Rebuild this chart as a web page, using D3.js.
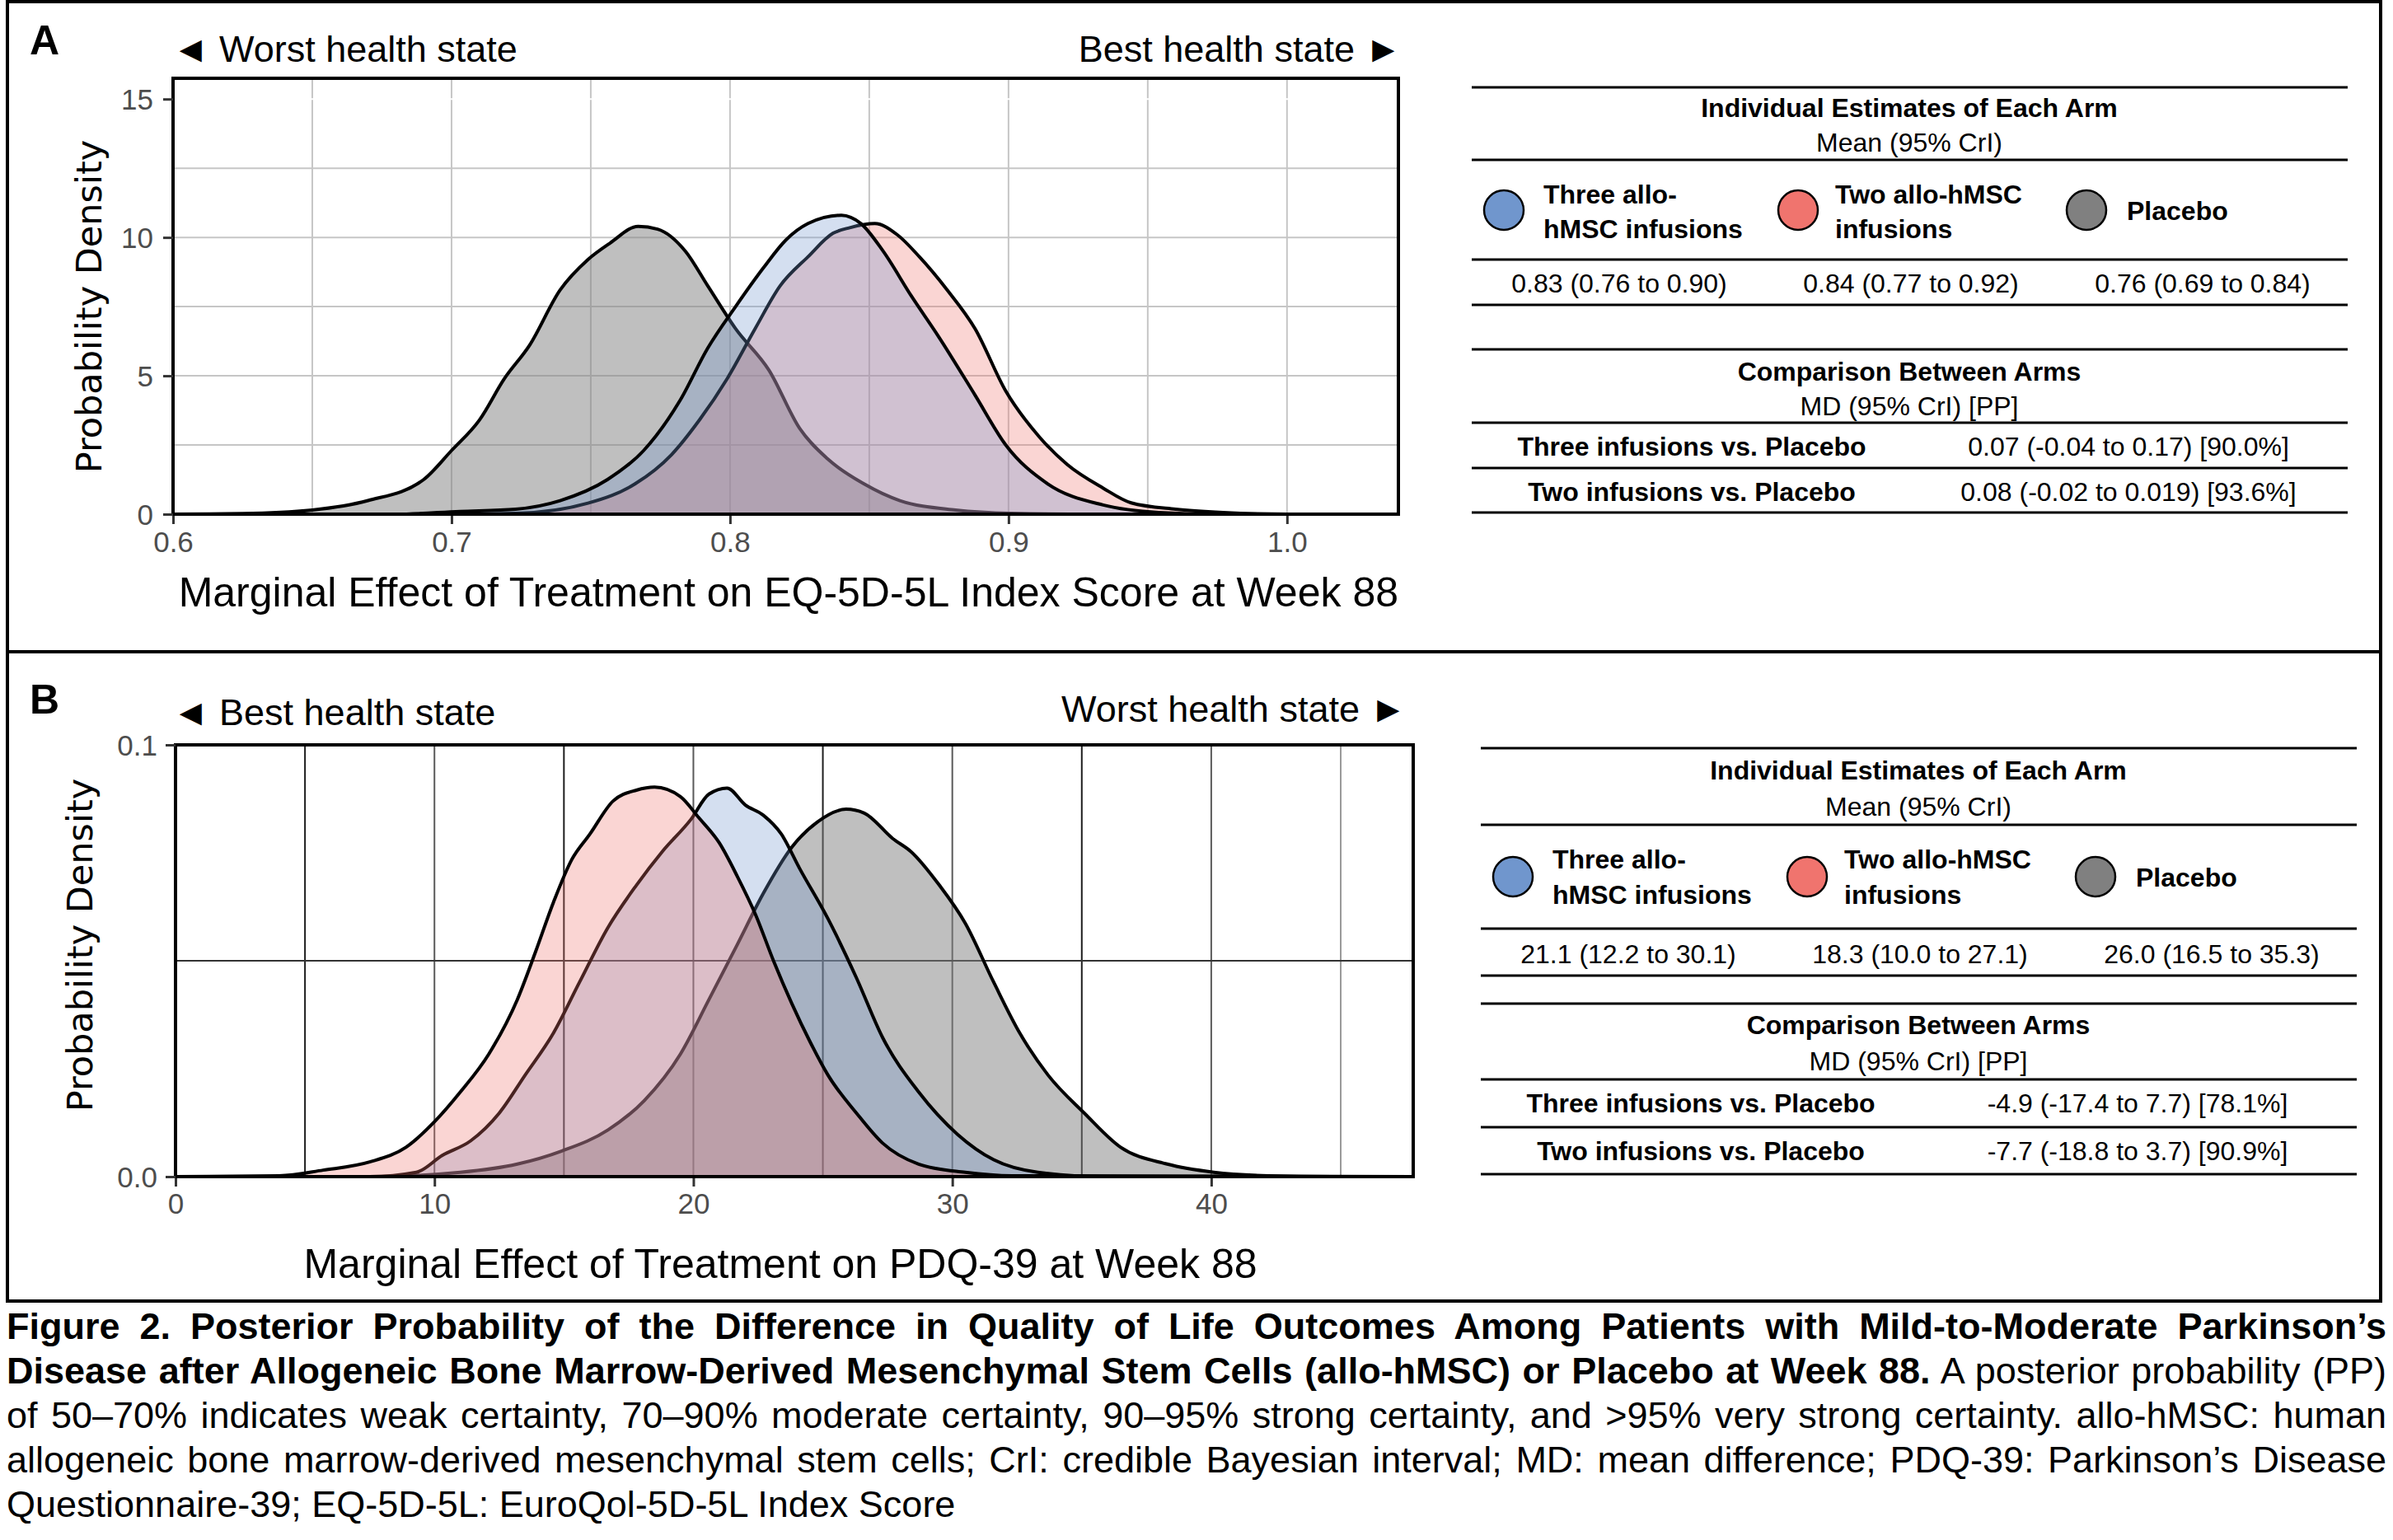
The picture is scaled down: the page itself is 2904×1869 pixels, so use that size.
<!DOCTYPE html>
<html>
<head>
<meta charset="utf-8">
<script src="https://cdn.jsdelivr.net/npm/d3@7"></script>
<style>
  body { margin: 0; background: #fff; }
  svg { position: absolute; left: 0; top: 0; }
  .caption { position: absolute; left: 8px; top: 1583px; width: 2888px;
    font-family: "Liberation Sans", Arial, sans-serif; font-size: 45px; line-height: 54px; color: #000; }
  .caption div { text-align: justify; text-align-last: justify; }
  .caption div.last { text-align-last: left; }
</style>
</head>
<body>
<script>
// arms, in legend order
const arms = ["Three allo-hMSC infusions", "Two allo-hMSC infusions", "Placebo"];
const armLegend = [["Three allo-", "hMSC infusions"], ["Two allo-hMSC", "infusions"], ["Placebo"]];
const armColors = ["#7096cd", "#f0746e", "#808080"];

// panel A: EQ-5D-5L index score, density  [x, density]
const eqThree = [[0.60, 0], [0.68, 0], [0.703, 0.1], [0.723, 0.18], [0.739, 0.49], [0.756, 1.25], [0.769, 2.3],
  [0.782, 4.1], [0.792, 6.0], [0.802, 7.5], [0.812, 8.9], [0.820, 9.9], [0.828, 10.5], [0.840, 10.8],
  [0.847, 10.5], [0.855, 9.5], [0.865, 7.9], [0.875, 6.4], [0.888, 4.3], [0.899, 2.5], [0.914, 1.1],
  [0.934, 0.33], [0.954, 0.06], [0.974, 0], [1.04, 0]];
const eqTwo = [[0.60, 0], [0.70, 0], [0.723, 0.03], [0.749, 0.4], [0.766, 1.1], [0.779, 2.15], [0.789, 3.4],
  [0.799, 4.9], [0.809, 6.7], [0.818, 8.25], [0.828, 9.3], [0.837, 10.15], [0.843, 10.35], [0.852, 10.5],
  [0.860, 10.1], [0.868, 9.3], [0.878, 8.1], [0.888, 6.7], [0.899, 4.45], [0.911, 2.8], [0.921, 1.8],
  [0.934, 0.94], [0.944, 0.41], [0.960, 0.18], [0.977, 0.06], [1.0, 0], [1.04, 0]];
const eqPlacebo = [[0.60, 0], [0.625, 0.02], [0.650, 0.15], [0.670, 0.49], [0.690, 1.25], [0.700, 2.3],
  [0.710, 3.4], [0.719, 4.9], [0.728, 6.1], [0.739, 8.1], [0.749, 9.2], [0.757, 9.8], [0.767, 10.4],
  [0.774, 10.3], [0.784, 9.5], [0.792, 8.25], [0.802, 6.7], [0.814, 5.2], [0.825, 3.1], [0.835, 2.0],
  [0.848, 1.1], [0.861, 0.49], [0.881, 0.15], [0.901, 0.03], [0.93, 0], [1.04, 0]];

// panel B: PDQ-39, density  [x, density]
const pdqThree = [[0, 0], [7.5, 0], [9.3, 0.001], [10.3, 0.0049], [11.4, 0.0083], [12.5, 0.0147],
  [13.5, 0.0235], [14.6, 0.0333], [15.6, 0.045], [16.7, 0.0577], [17.8, 0.0675], [18.8, 0.0753],
  [19.9, 0.0827], [20.6, 0.0886], [21.3, 0.090], [22.0, 0.0861], [22.7, 0.0837], [23.4, 0.0793],
  [24.1, 0.0714], [25.2, 0.0597], [26.3, 0.046], [27.3, 0.0323], [28.7, 0.0196], [30.2, 0.0098],
  [31.6, 0.0039], [33.3, 0.001], [35.8, 0], [47.8, 0]];
const pdqTwo = [[0, 0], [4.0, 0.0002], [5.7, 0.0015], [7.5, 0.0034], [8.9, 0.0068], [10.0, 0.0127],
  [11.0, 0.0196], [12.1, 0.0284], [13.2, 0.041], [13.9, 0.052], [14.6, 0.0636], [15.3, 0.0734],
  [16.0, 0.0793], [16.9, 0.087], [17.8, 0.0895], [18.5, 0.0902], [19.5, 0.088], [20.2, 0.0832],
  [21.0, 0.0773], [21.7, 0.0695], [22.4, 0.0607], [23.1, 0.0499], [23.8, 0.0401], [24.5, 0.0313],
  [25.2, 0.0235], [26.3, 0.0147], [27.3, 0.0078], [28.7, 0.0029], [30.5, 0.001], [32.3, 0.0002], [47.8, 0]];
const pdqPlacebo = [[0, 0], [7.5, 0], [11.0, 0.001], [13.2, 0.0029], [14.9, 0.0059], [16.7, 0.0108],
  [18.1, 0.0176], [19.5, 0.0284], [20.6, 0.041], [21.7, 0.0538], [22.7, 0.0656], [23.8, 0.0763],
  [24.8, 0.0822], [25.9, 0.0851], [26.6, 0.0842], [27.7, 0.0783], [28.4, 0.0753], [29.5, 0.0675],
  [30.5, 0.0587], [31.6, 0.045], [32.6, 0.0333], [33.7, 0.0235], [35.1, 0.0147], [36.5, 0.0068],
  [38.3, 0.0029], [40.1, 0.001], [42.2, 0.0002], [44.7, 0], [47.8, 0]];

// tick values
const eqTicksX = [0.6, 0.7, 0.8, 0.9, 1.0];
const eqTicksY = [0, 5, 10, 15];
const pdqTicksX = [0, 10, 20, 30, 40];
const pdqTicksY = [0, 0.1];

// table text
const eqEstimates = ["0.83 (0.76 to 0.90)", "0.84 (0.77 to 0.92)", "0.76 (0.69 to 0.84)"];
const eqCompare = [["Three infusions vs. Placebo", "0.07 (-0.04 to 0.17) [90.0%]"],
  ["Two infusions vs. Placebo", "0.08 (-0.02 to 0.019) [93.6%]"]];
const pdqEstimates = ["21.1 (12.2 to 30.1)", "18.3 (10.0 to 27.1)", "26.0 (16.5 to 35.3)"];
const pdqCompare = [["Three infusions vs. Placebo", "-4.9 (-17.4 to 7.7) [78.1%]"],
  ["Two infusions vs. Placebo", "-7.7 (-18.8 to 3.7) [90.9%]"]];

const FONT = "'Liberation Sans', Arial, sans-serif";
const W = 2904, H = 1869;
const TICK_FS = 35;

const svg = d3.select("body").append("svg").attr("width", W).attr("height", H);

const panels = [
  {
    id: "A", frame: [2, 791], letterY: 66,
    plot: { left: 210, right: 1697, top: 95, bottom: 624 },
    xDomain: [0.6, 1.04], yDomain: [0, 15.75],
    ticksX: eqTicksX, ticksY: eqTicksY, fmtX: d3.format(".1f"), fmtY: d3.format("d"),
    gridX: d3.range(0.6, 1.04, 0.05), gridY: [0, 2.5, 5, 7.5, 10, 12.5],
    series: [eqPlacebo, eqTwo, eqThree], seriesColor: [2, 1, 0],
    leftNote: "◄ Worst health state", rightNote: "Best health state ►", noteY: [75, 75],
    xTitle: "Marginal Effect of Treatment on EQ-5D-5L Index Score at Week 88",
    xTitleX: 1697, xTitleAnchor: "end", xTitleY: 736, yTitleX: 108, yTitleY: 372,
    tickLabelY: 657, tickLabelRight: 186,
    table: { left: 1786, right: 2849, top: 106, lines: [0, 88, 209, 264, 318, 407, 462, 516],
      t: { h1: 24, h2: 66, l1: 129, l2: 171, lc: 149, v: 237, c1: 344, c2: 386, r1: 435, r2: 490 },
      est: eqEstimates, cmp: eqCompare }
  },
  {
    id: "B", frame: [791, 1579], letterY: 866,
    plot: { left: 213, right: 1715, top: 904, bottom: 1428 },
    xDomain: [0, 47.8], yDomain: [0, 0.1],
    ticksX: pdqTicksX, ticksY: pdqTicksY, fmtX: d3.format("d"), fmtY: d3.format(".1f"),
    gridX: [], gridY: [],
    series: [pdqPlacebo, pdqThree, pdqTwo], seriesColor: [2, 0, 1],
    leftNote: "◄ Best health state", rightNote: "Worst health state ►", noteY: [880, 876],
    xTitle: "Marginal Effect of Treatment on PDQ-39 at Week 88",
    xTitleX: 947, xTitleAnchor: "middle", xTitleY: 1551, yTitleX: 97, yTitleY: 1147,
    tickLabelY: 1460, tickLabelRight: 191,
    table: { left: 1797, right: 2860, top: 908, lines: [0, 93, 219, 276, 310, 402, 460, 517],
      t: { h1: 26, h2: 70, l1: 134, l2: 177, lc: 156, v: 249, c1: 335, c2: 379, r1: 430, r2: 488 },
      est: pdqEstimates, cmp: pdqCompare }
  }
];

panels.forEach(p => {
  const g = svg.append("g");

  // panel frame
  g.append("rect")
    .attr("x", 9).attr("y", p.frame[0])
    .attr("width", 2880).attr("height", p.frame[1] - p.frame[0])
    .attr("fill", "none").attr("stroke", "#000").attr("stroke-width", 4);

  g.append("text")
    .attr("x", 36).attr("y", p.letterY)
    .attr("font-family", FONT).attr("font-weight", "bold").attr("font-size", 50)
    .text(p.id);

  const x = d3.scaleLinear().domain(p.xDomain).range([p.plot.left, p.plot.right]);
  const y = d3.scaleLinear().domain(p.yDomain).range([p.plot.bottom, p.plot.top]);

  const clipId = "clip" + p.id;
  g.append("clipPath").attr("id", clipId).append("rect")
    .attr("x", p.plot.left).attr("y", p.plot.top)
    .attr("width", p.plot.right - p.plot.left).attr("height", p.plot.bottom - p.plot.top);

  const grid = g.append("g").attr("clip-path", `url(#${clipId})`);
  if (p.id === "A") {
    grid.selectAll(".gx").data(p.gridX).enter().append("line")
      .attr("x1", d => x(d)).attr("x2", d => x(d))
      .attr("y1", p.plot.top).attr("y2", p.plot.bottom)
      .attr("stroke", "#c6c6c6").attr("stroke-width", 2);
    grid.selectAll(".gy").data(p.gridY).enter().append("line")
      .attr("x1", p.plot.left).attr("x2", p.plot.right)
      .attr("y1", d => y(d)).attr("y2", d => y(d))
      .attr("stroke", "#c6c6c6").attr("stroke-width", 2);
    grid.append("line")
      .attr("x1", p.plot.left).attr("x2", p.plot.right)
      .attr("y1", y(15)).attr("y2", y(15))
      .attr("stroke", "#fff").attr("stroke-width", 2);
  } else {
    grid.selectAll(".gx").data(d3.range(5, 48, 5)).enter().append("line")
      .attr("x1", d => x(d)).attr("x2", d => x(d))
      .attr("y1", p.plot.top).attr("y2", p.plot.bottom)
      .attr("stroke", d => d % 10 === 0 ? "#5a5a5a" : (d === 45 ? "#9a9a9a" : "#1e1e1e"))
      .attr("stroke-width", 2);
    grid.append("line")
      .attr("x1", p.plot.left).attr("x2", p.plot.right)
      .attr("y1", y(0.05)).attr("y2", y(0.05))
      .attr("stroke", "#333").attr("stroke-width", 2);
  }

  // densities
  const area = d3.area().curve(d3.curveMonotoneX)
    .x(d => x(d[0])).y0(y(0)).y1(d => y(d[1]));
  const line = d3.line().curve(d3.curveMonotoneX)
    .x(d => x(d[0])).y(d => y(d[1]));
  const marks = g.append("g").attr("clip-path", `url(#${clipId})`);
  p.series.forEach((s, i) => {
    const ci = p.seriesColor[i];
    marks.append("path").datum(s)
      .attr("d", area)
      .attr("fill", armColors[ci])
      .attr("fill-opacity", ci === 2 ? 0.5 : 0.3);
    marks.append("path").datum(s)
      .attr("d", line)
      .attr("fill", "none").attr("stroke", "#000").attr("stroke-width", 4)
      .attr("stroke-linejoin", "round");
  });

  // plot border
  g.append("rect")
    .attr("x", p.plot.left).attr("y", p.plot.top)
    .attr("width", p.plot.right - p.plot.left).attr("height", p.plot.bottom - p.plot.top)
    .attr("fill", "none").attr("stroke", "#000").attr("stroke-width", 4);

  // axes
  const ax = g.append("g").attr("transform", `translate(0,${p.plot.bottom})`)
    .call(d3.axisBottom(x).tickValues(p.ticksX).tickFormat(p.fmtX).tickSize(12).tickPadding(6));
  const ay = g.append("g").attr("transform", `translate(${p.plot.left},0)`)
    .call(d3.axisLeft(y).tickValues(p.ticksY).tickFormat(p.fmtY).tickSize(12).tickPadding(6));
  [ax, ay].forEach(a => {
    a.select(".domain").remove();
    a.selectAll(".tick line").attr("stroke", "#333").attr("stroke-width", 3);
    a.selectAll(".tick text").attr("font-family", FONT).attr("font-size", TICK_FS).attr("fill", "#4d4d4d");
  });
  ax.selectAll(".tick line").attr("y1", 2);
  ax.selectAll(".tick text").attr("dy", "0.36em").attr("y", p.tickLabelY - p.plot.bottom);
  ay.selectAll(".tick text").attr("x", p.tickLabelRight - p.plot.left).attr("dy", "0.36em");

  // titles
  g.append("text")
    .attr("transform", `translate(${p.yTitleX},${p.yTitleY}) rotate(-90)`)
    .attr("text-anchor", "middle").attr("dy", "0.36em")
    .attr("font-family", "'DejaVu Sans', Verdana, sans-serif").attr("font-size", 43)
    .text("Probability Density");
  g.append("text")
    .attr("x", p.xTitleX).attr("y", p.xTitleY)
    .attr("text-anchor", p.xTitleAnchor)
    .attr("font-family", FONT).attr("font-size", 50)
    .text(p.xTitle);
  g.append("text")
    .attr("x", 209).attr("y", p.noteY[0])
    .attr("font-family", FONT).attr("font-size", 45)
    .text(p.leftNote);
  g.append("text")
    .attr("x", p.id === "A" ? 1701 : 1707).attr("y", p.noteY[1])
    .attr("text-anchor", "end")
    .attr("font-family", FONT).attr("font-size", 45)
    .text(p.rightNote);

  // summary table
  const t = p.table;
  const tg = g.append("g").attr("transform", `translate(${t.left},${t.top})`)
    .attr("font-family", FONT).attr("font-size", 32);
  const tw = t.right - t.left;
  tg.selectAll(".rule").data(t.lines).enter().append("line")
    .attr("x1", 0).attr("x2", tw)
    .attr("y1", d => d).attr("y2", d => d)
    .attr("stroke", "#000").attr("stroke-width", 3);

  const txt = (xx, yy, s, bold, anchor) => tg.append("text")
    .attr("x", xx).attr("y", yy).attr("dy", "0.36em")
    .attr("text-anchor", anchor || "middle")
    .attr("font-weight", bold ? "bold" : null)
    .text(s);

  txt(531, t.t.h1, "Individual Estimates of Each Arm", true);
  txt(531, t.t.h2, "Mean (95% CrI)", false);

  const colCircle = [39, 396, 746], colText = [87, 441, 795], colVal = [179, 533, 887];
  armLegend.forEach((lab, i) => {
    tg.append("circle")
      .attr("cx", colCircle[i]).attr("cy", t.t.lc)
      .attr("r", 24)
      .attr("fill", armColors[i]).attr("stroke", "#000").attr("stroke-width", 2.5);
    if (lab.length === 2) {
      txt(colText[i], t.t.l1, lab[0], true, "start");
      txt(colText[i], t.t.l2, lab[1], true, "start");
    } else {
      txt(colText[i], t.t.lc, lab[0], true, "start");
    }
    txt(colVal[i], t.t.v, t.est[i], false);
  });

  txt(531, t.t.c1, "Comparison Between Arms", true);
  txt(531, t.t.c2, "MD (95% CrI) [PP]", false);
  t.cmp.forEach((r, i) => {
    txt(267, i === 0 ? t.t.r1 : t.t.r2, r[0], true);
    txt(797, i === 0 ? t.t.r1 : t.t.r2, r[1], false);
  });
});

// figure caption
const cap = d3.select("body").append("div").attr("class", "caption");
const capLines = [
  [["b", "Figure 2. Posterior Probability of the Difference in Quality of Life Outcomes Among Patients with Mild-to-Moderate Parkinson’s"]],
  [["b", "Disease after Allogeneic Bone Marrow-Derived Mesenchymal Stem Cells (allo-hMSC) or Placebo at Week 88."], ["n", " A posterior probability (PP)"]],
  [["n", "of 50–70% indicates weak certainty, 70–90% moderate certainty, 90–95% strong certainty, and >95% very strong certainty. allo-hMSC: human"]],
  [["n", "allogeneic bone marrow-derived mesenchymal stem cells; CrI: credible Bayesian interval; MD: mean difference; PDQ-39: Parkinson’s Disease"]],
  [["n", "Questionnaire-39; EQ-5D-5L: EuroQol-5D-5L Index Score"]]
];
capLines.forEach((ln, i) => {
  const d = cap.append("div").attr("class", i === capLines.length - 1 ? "last" : null);
  ln.forEach(seg => {
    d.append("span").style("font-weight", seg[0] === "b" ? "bold" : "normal").text(seg[1]);
  });
});
</script>
</body>
</html>
